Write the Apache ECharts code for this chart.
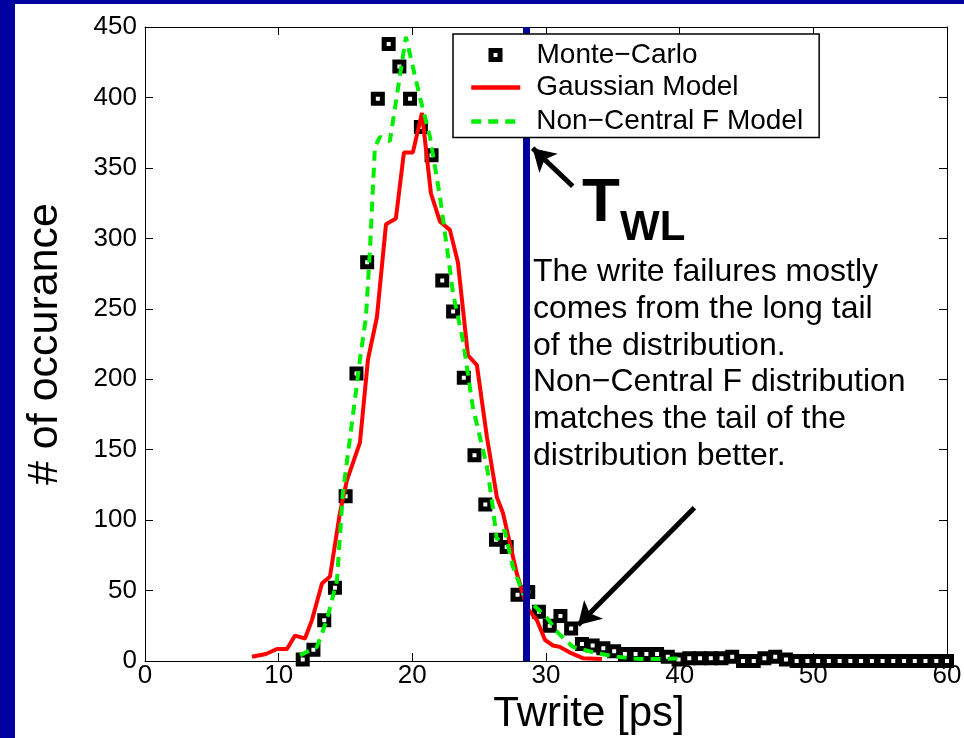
<!DOCTYPE html>
<html>
<head>
<meta charset="utf-8">
<script src="https://cdn.jsdelivr.net/npm/echarts@6/dist/echarts.min.js"></script>
<style>
  html, body { margin: 0; padding: 0; background: #0000a0; width: 964px; height: 738px; overflow: hidden; }
  #chart { position: absolute; left: 15px; top: 4px; width: 949px; height: 734px; background: #ffffff; }
</style>
</head>
<body>
<div id="chart"></div>
<script>
// Monte-Carlo histogram of write time (bin centres in ps, counts)
const mcX = [11.80, 12.60, 13.41, 14.21, 15.01, 15.82, 16.62, 17.42, 18.23, 19.03,
             19.83, 20.64, 21.44, 22.24, 23.05, 23.85, 24.65, 25.46, 26.26, 27.06,
             27.87, 28.67, 29.47, 30.28, 31.08, 31.88, 32.69, 33.49, 34.29, 35.10,
             35.90, 36.70, 37.51, 38.31, 39.11, 39.92, 40.72, 41.52, 42.33, 43.13,
             43.93, 44.74, 45.54, 46.34, 47.15, 47.95, 48.75, 49.56, 50.36, 51.16,
             51.97, 52.77, 53.57, 54.38, 55.18, 55.98, 56.79, 57.59, 58.39, 59.20, 60.00];
const mcY = [1, 8, 29, 52, 117, 204, 283, 399, 438, 422,
             399, 379, 359, 270, 248, 201, 146, 111, 86, 81,
             47, 49, 35, 25, 32, 23, 12, 11, 9, 7,
             5, 5, 5, 5, 3, 1, 2, 2, 2, 2,
             3, 0, 0, 2, 3, 1, 0, 0, 0, 0,
             0, 0, 0, 0, 0, 0, 0, 0, 0, 0, 0];

// Gaussian model curve
const gaussX = [8.0, 9.05, 9.87, 10.62, 11.22, 11.97, 12.49, 13.24, 13.84, 14.58,
                15.1, 16.08, 16.68, 17.35, 18.03, 18.77, 19.37, 20.04, 20.72, 21.39,
                22.06, 22.81, 23.41, 24.16, 24.83, 25.58, 26.33, 26.78, 27.82, 28.57,
                29.32, 29.92, 30.52, 31.04, 31.79, 32.76, 34.18];
const gaussY = [3, 5, 8.5, 8.5, 18, 16, 29, 55, 60, 105,
                128, 155, 214, 244, 310, 314, 361, 361, 389, 332,
                312, 306, 283, 217, 210, 159, 116, 105, 62, 38,
                29, 15, 11, 10, 6, 2, 1.4];

// Non-central F model curve
const ncfX = [11.6, 12.86, 13.6, 14.36, 14.8, 15.7, 16.08, 16.53, 16.83, 17.2,
              17.58, 18.32, 19.52, 20.57, 21.32, 22.06, 22.81, 23.04, 23.78, 24.53,
              25.58, 25.95, 26.33, 26.9, 27.52, 28.27, 29.03, 30.05, 30.9, 32.0,
              33.8, 35.3, 37.0, 38.7, 40.2];
const ncfY = [4, 10, 29, 57, 119, 185, 214, 244, 292, 365,
              372, 369, 443, 400, 372, 330, 278, 261, 228, 180,
              138, 114, 86, 93, 67, 48, 40, 31, 20, 10,
              5.5, 3, 1.4, 1.4, 2];

// Word-line pulse width limit and annotation arrows (data units)
const twl = 28.55;
const arrowToTwl = [[32.0, 337], [29.0, 364]];
const arrowToTail = [[41.1, 108.7], [32.4, 25.6]];

const xTicks = { min: 0, max: 60, interval: 10 };
const yTicks = { min: 0, max: 450, interval: 50 };

const NAME_MC = 'Monte\u2212Carlo';
const NAME_GAUSS = 'Gaussian Model';
const NAME_NCF = 'Non\u2212Central F Model';

const zip = (xs, ys) => xs.map((x, i) => [x, ys[i]]);
const FONT = "'Liberation Sans', Arial, Helvetica, sans-serif";

const chart = echarts.init(document.getElementById('chart'), null, { renderer: 'canvas' });

const axisCommon = {
  axisLine: { show: true, onZero: false, lineStyle: { color: '#000', width: 1 } },
  axisTick: { show: true, inside: true, length: 8, lineStyle: { color: '#000', width: 1 } },
  splitLine: { show: false }
};
const legendText = { fontFamily: FONT, fontSize: 28, color: '#000' };

chart.setOption({
  animation: false,
  backgroundColor: '#ffffff',
  grid: { left: 130, right: 17, top: 23, bottom: 77, outerBoundsMode: 'none', containLabel: false },
  legend: [
    // boxed legend for the two model curves (box also frames the marker row above)
    {
      orient: 'vertical',
      left: 438, top: 30,
      data: [
        { name: NAME_GAUSS, itemStyle: { opacity: 0 } },
        { name: NAME_NCF, itemStyle: { opacity: 0 } }
      ],
      itemWidth: 49, itemHeight: 14, itemGap: 6,
      lineStyle: { width: 4.5 },
      padding: [39.5, 16, 2, 16],
      backgroundColor: '#fff',
      borderColor: '#000', borderWidth: 1.5, borderRadius: 0,
      textStyle: Object.assign({ padding: [0, 0, 0, 11] }, legendText),
      z: 20
    },
    // marker row
    {
      orient: 'vertical',
      left: 473.5, top: 37,
      data: [{ name: NAME_MC, icon: 'rect', itemStyle: { color: '#fff', borderColor: '#000', borderWidth: 5 } }],
      itemWidth: 9, itemHeight: 9,
      padding: 0,
      textStyle: Object.assign({ padding: [0, 0, 0, 31.5] }, legendText),
      z: 21
    }
  ],
  xAxis: [
    Object.assign({
      type: 'value', position: 'bottom', ...xTicks,
      name: 'Twrite [ps]', nameLocation: 'middle', nameGap: 26,
      nameTextStyle: { fontFamily: FONT, fontSize: 42, color: '#000', padding: [0, 0, 0, 86] },
      axisLabel: { show: true, fontFamily: FONT, fontSize: 26, color: '#000', margin: 2 }
    }, axisCommon),
    Object.assign({
      type: 'value', position: 'top', ...xTicks,
      axisLabel: { show: false }
    }, axisCommon)
  ],
  yAxis: [
    Object.assign({
      type: 'value', position: 'left', ...yTicks,
      name: '# of occurance', nameLocation: 'middle', nameGap: 78,
      nameTextStyle: { fontFamily: FONT, fontSize: 43, color: '#000' },
      axisLabel: { show: true, fontFamily: FONT, fontSize: 26, color: '#000', margin: 8 }
    }, axisCommon),
    Object.assign({
      type: 'value', position: 'right', ...yTicks,
      axisLabel: { show: false }
    }, axisCommon)
  ],
  series: [
    {
      name: NAME_MC, type: 'scatter',
      data: zip(mcX, mcY),
      symbol: 'rect', symbolSize: 9,
      itemStyle: { color: '#fff', borderColor: '#000', borderWidth: 5, opacity: 1 },
      z: 2
    },
    {
      name: NAME_GAUSS, type: 'line',
      data: zip(gaussX, gaussY),
      showSymbol: false, symbol: 'none',
      lineStyle: { color: '#ff0000', width: 4 },
      itemStyle: { color: '#ff0000' },
      z: 3
    },
    {
      name: NAME_NCF, type: 'line',
      data: zip(ncfX, ncfY),
      showSymbol: false, symbol: 'none',
      lineStyle: { color: '#00ee00', width: 4, type: [10, 7] },
      itemStyle: { color: '#00ee00' },
      z: 4
    },
    {
      name: 'twl', type: 'line', data: [],
      z: 5,
      markLine: {
        silent: true, animation: false,
        symbol: ['none', 'none'],
        label: { show: false },
        lineStyle: { color: '#00009a', width: 7, type: 'solid' },
        data: [[{ coord: [twl, yTicks.min] }, { coord: [twl, yTicks.max] }]]
      }
    },
    {
      name: 'arrows', type: 'line', data: [],
      z: 6,
      markLine: {
        silent: true, animation: false,
        symbol: ['none', 'arrow'], symbolSize: [20, 22],
        label: { show: false },
        lineStyle: { color: '#000', width: 5, type: 'solid' },
        data: [
          [{ coord: arrowToTwl[0] }, { coord: arrowToTwl[1] }],
          [{ coord: arrowToTail[0] }, { coord: arrowToTail[1] }]
        ]
      }
    }
  ],
  graphic: [
    {
      type: 'text', x: 567, y: 200, z: 10,
      style: { text: 'T', font: 'bold 62px ' + FONT, fill: '#000', verticalAlign: 'middle', align: 'left' }
    },
    {
      type: 'text', x: 605, y: 224, z: 10,
      style: { text: 'WL', font: 'bold 42px ' + FONT, fill: '#000', verticalAlign: 'middle', align: 'left' }
    },
    {
      type: 'text', x: 518, y: 250, z: 10,
      style: {
        text: 'The write failures mostly\ncomes from the long tail\nof the distribution.\nNon\u2212Central F distribution\nmatches the tail of the\ndistribution better.',
        font: '32px ' + FONT, fill: '#000', lineHeight: 36.7,
        verticalAlign: 'top', align: 'left'
      }
    }
  ]
});
</script>
</body>
</html>
